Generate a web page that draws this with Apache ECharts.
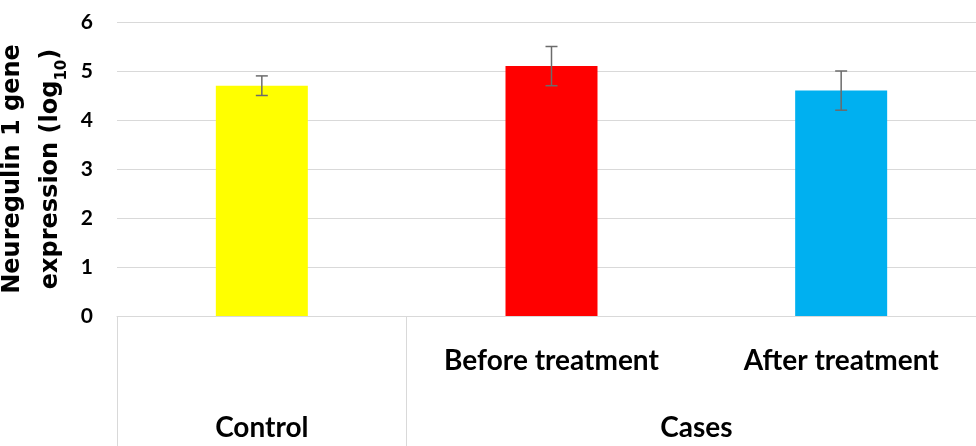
<!DOCTYPE html>
<html>
<head>
<meta charset="utf-8">
<script src="https://cdn.jsdelivr.net/npm/echarts@6/dist/echarts.min.js"></script>
<style>html,body{margin:0;padding:0;background:#fff}#c{width:976px;height:446px}</style>
</head>
<body>
<div id="c"></div>
<script>
var categories = ['Control', 'Before treatment', 'After treatment'];
var groupLabels = ['Control', 'Cases'];
var groupCenters = [0.5, 2];
var groupDividers = [0, 1];
var values = [4.7, 5.1, 4.6];
var errors = [0.2, 0.4, 0.4];
var colors = ['#FFFF00', '#FF0000', '#00B0F0'];
var yTicks = [0, 1, 2, 3, 4, 5, 6];

var FONT = 'Lato';
var TFONT = 'DejaVu Sans';
var chart = echarts.init(document.getElementById('c'));
var errData = values.map(function (v, i) { return [i, v - errors[i], v + errors[i]]; });

chart.setOption({
  animation: false,
  grid: { left: 117, top: 22, width: 869, height: 294, outerBoundsMode: 'none', containLabel: false },
  xAxis: [{
    type: 'category',
    data: categories,
    axisLine: { show: true, lineStyle: { color: '#d9d9d9', width: 1 } },
    axisTick: { show: false },
    axisLabel: {
      interval: 0, margin: 31, hideOverlap: false,
      color: '#000', fontFamily: FONT, fontWeight: 'bold', fontSize: 28,
      formatter: function (v) { return v === 'Control' ? '' : v; }
    }
  }, {
    type: 'value', min: 0, max: 3, position: 'bottom',
    axisLine: { show: false },
    splitLine: { show: false },
    axisTick: { show: true, customValues: groupDividers, length: 132, lineStyle: { color: '#d9d9d9', width: 1 } },
    axisLabel: {
      customValues: groupCenters, margin: 98, hideOverlap: false,
      color: '#000', fontFamily: FONT, fontWeight: 'bold', fontSize: 28,
      formatter: function (v) { return groupLabels[groupCenters.indexOf(v)]; }
    }
  }],
  yAxis: {
    type: 'value', min: 0, max: 6, interval: 1,
    axisLine: { show: false }, axisTick: { show: false },
    splitLine: { lineStyle: { color: '#d9d9d9', width: 1 } },
    axisLabel: { color: '#000', fontFamily: FONT, fontWeight: 'bold', fontSize: 21, margin: 24,
      formatter: function (v) { return yTicks.indexOf(v) >= 0 ? String(v) : ''; } },
    name: '{a|Neuregulin 1 gene}\n{a|expression (log}{sub|10}{a|)}',
    nameLocation: 'middle', nameRotate: 90, nameGap: 30,
    nameTextStyle: {
      color: '#000', fontFamily: TFONT, fontWeight: 'bold', fontSize: 24, lineHeight: 38,
      rich: {
        a: { color: '#000', fontFamily: TFONT, fontWeight: 'bold', fontSize: 24, lineHeight: 38 },
        sub: { color: '#000', fontFamily: TFONT, fontWeight: 'bold', fontSize: 15, lineHeight: 38, verticalAlign: 'bottom', padding: [12, 0, 0, 0] }
      }
    }
  },
  series: [{
    type: 'bar',
    barWidth: 92,
    data: values.map(function (v, i) { return { value: v, itemStyle: { color: colors[i] } }; })
  }, {
    type: 'custom',
    data: errData,
    z: 10,
    renderItem: function (params, api) {
      var x = api.value(0);
      var lo = api.coord([x, api.value(1)]);
      var hi = api.coord([x, api.value(2)]);
      var hw = 6;
      var st = { stroke: '#6b6b6b', lineWidth: 1.5 };
      return { type: 'group', children: [
        { type: 'line', shape: { x1: lo[0], y1: lo[1], x2: hi[0], y2: hi[1] }, style: st },
        { type: 'line', shape: { x1: lo[0] - hw, y1: lo[1], x2: lo[0] + hw, y2: lo[1] }, style: st },
        { type: 'line', shape: { x1: hi[0] - hw, y1: hi[1], x2: hi[0] + hw, y2: hi[1] }, style: st }
      ] };
    }
  }]
});
</script>
</body>
</html>
